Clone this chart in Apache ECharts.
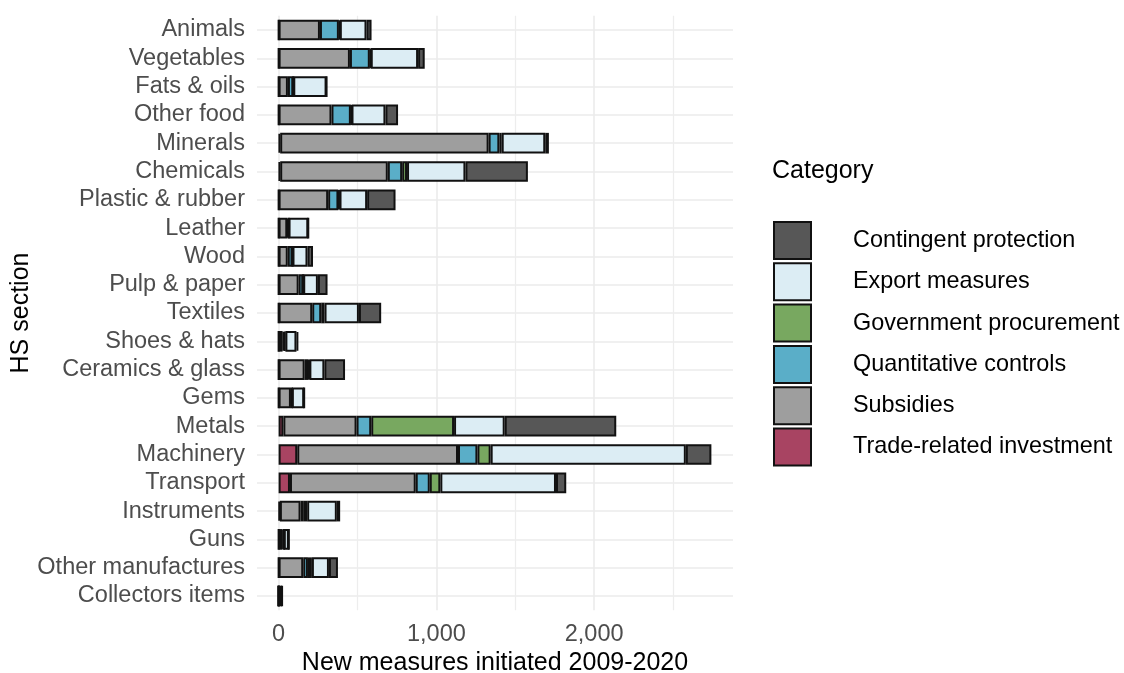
<!DOCTYPE html>
<html>
<head>
<meta charset="utf-8">
<script src="https://cdn.jsdelivr.net/npm/echarts@6/dist/echarts.min.js"></script>
<style>
html,body{margin:0;padding:0;background:#fff;}
#chart{width:1124px;height:673px;}
</style>
</head>
<body>
<div id="chart"></div>
<script>
const categories = ["Animals","Vegetables","Fats & oils","Other food","Minerals","Chemicals","Plastic & rubber","Leather","Wood","Pulp & paper","Textiles","Shoes & hats","Ceramics & glass","Gems","Metals","Machinery","Transport","Instruments","Guns","Other manufactures","Collectors items"];

// stack order left to right
const tradeRelatedInvestment = [0,0,0,0,10,10,0,0,0,0,0,0,0,0,30,118,72,8,0,0,0];
const subsidies             = [262,452,59,335,1321,682,314,55,58,127,213,25,165,78,464,1019,797,131,25,156,0];
const quantitativeControls  = [120,126,34,123,68,91,65,8,30,29,57,10,25,6,93,123,89,21,8,30,0];
const governmentProcurement = [6,6,0,4,15,31,7,0,0,0,21,8,5,0,525,84,67,21,0,25,0];
const exportMeasures        = [169,300,211,215,276,370,175,125,95,93,218,70,95,78,321,1237,733,188,32,108,22];
const contingentProtection  = [32,42,0,80,23,396,180,0,35,61,141,12,131,0,707,162,65,21,0,57,0];

const seriesNames = ["Trade-related investment","Subsidies","Quantitative controls","Government procurement","Export measures","Contingent protection"];
const legendOrder = ["Contingent protection","Export measures","Government procurement","Quantitative controls","Subsidies","Trade-related investment"];
const xMajorTicks = [0,1000,2000];
const xMinorTicks = [500,1500,2500];

const seriesData = [tradeRelatedInvestment, subsidies, quantitativeControls, governmentProcurement, exportMeasures, contingentProtection];
const colors = ["#a84462","#9e9e9e","#5aaec8","#78a860","#dcedf4","#575757"];

const FONT = "Liberation Sans";
const chart = echarts.init(document.getElementById('chart'), null, {renderer:'canvas'});

const barSeries = seriesNames.map((n,i)=>({
  name:n, type:'bar', stack:'total', data:seriesData[i], barWidth:'73%', z:2,
  itemStyle:{color:colors[i], borderColor:'#111111', borderWidth:2},
  emphasis:{disabled:true}
}));

const gridSeries = {
  name:'_grid', type:'line', data:[], z:0, silent:true,
  markLine:{
    silent:true, symbol:['none','none'], z:0, animation:false,
    label:{show:false},
    data:[
      ...categories.map(c=>({yAxis:c, lineStyle:{color:'#ebebeb',width:1.6,type:'solid'}})),
      ...xMajorTicks.map(v=>({xAxis:v, lineStyle:{color:'#ebebeb',width:1.6,type:'solid'}})),
      ...xMinorTicks.map(v=>({xAxis:v, lineStyle:{color:'#ededed',width:1.3,type:'solid'}}))
    ]
  }
};

chart.setOption({
  animation:false,
  backgroundColor:'#ffffff',
  grid:{left:257, right:391, top:15.85, height:594.3, containLabel:false, outerBoundsMode:'none'},
  xAxis:{
    type:'value', min:-137, max:2880,
    axisLine:{show:false}, axisTick:{show:false}, splitLine:{show:false},
    axisLabel:{
      margin:12, color:'#4d4d4d', fontFamily:FONT, fontSize:23.5,
      showMinLabel:false, showMaxLabel:false,
      formatter:v=> xMajorTicks.includes(v) ? v.toLocaleString('en-US') : ''
    },
    name:'New measures initiated 2009-2020', nameLocation:'middle', nameGap:37,
    nameTextStyle:{color:'#000000', fontFamily:FONT, fontSize:25}
  },
  yAxis:{
    type:'category', data:categories, inverse:true,
    axisLine:{show:false}, axisTick:{show:false}, splitLine:{show:false},
    axisLabel:{interval:0, margin:12, color:'#4d4d4d', fontFamily:FONT, fontSize:23.5},
    name:'HS section', nameLocation:'middle', nameGap:223, nameRotate:90,
    nameTextStyle:{color:'#000000', fontFamily:FONT, fontSize:25}
  },
  legend:{
    data:legendOrder, orient:'vertical', left:773, top:221, padding:0,
    itemWidth:37, itemHeight:37, itemGap:2.3, icon:'rect',
    selectedMode:false,
    textStyle:{color:'#000000', fontFamily:FONT, fontSize:23.4, padding:[0,0,0,37]}
  },
  graphic:[{
    type:'text', left:772, top:159,
    style:{text:'Category', fill:'#000000', font:'25px "Liberation Sans"'}
  }],
  series:[gridSeries, ...barSeries]
});
</script>
</body>
</html>
